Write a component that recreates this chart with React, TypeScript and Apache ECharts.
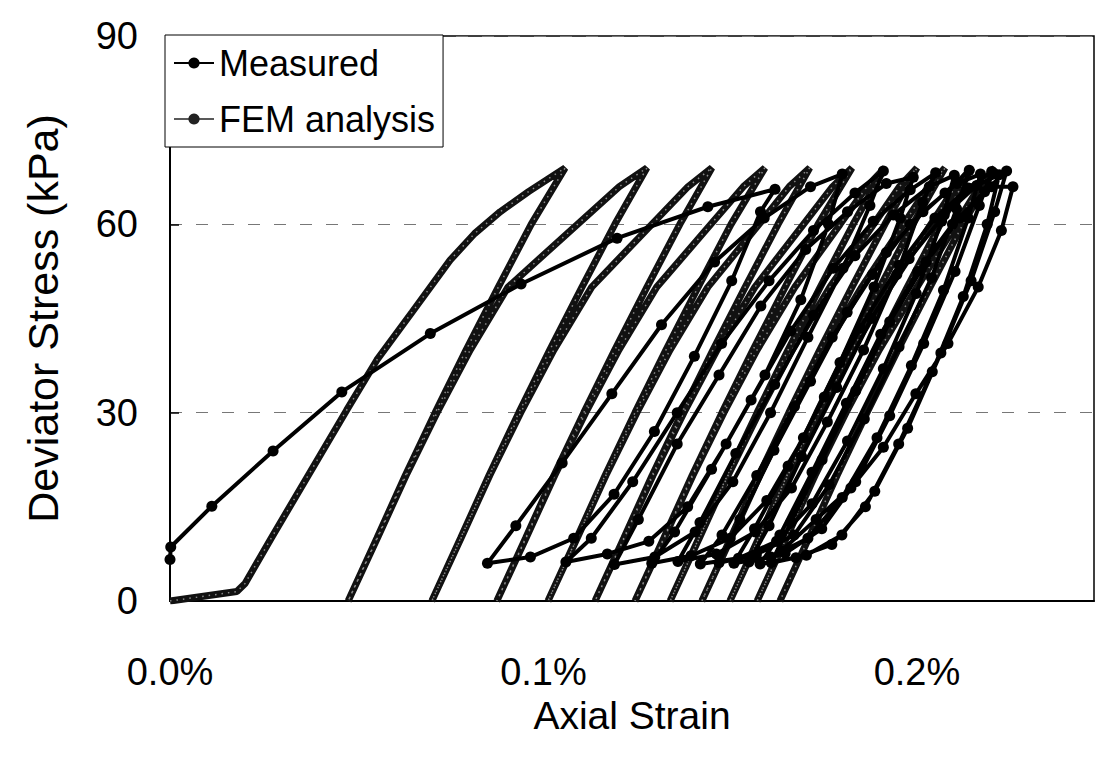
import React, { useEffect, useRef } from "react";
import * as echarts from "echarts";

// ---- Axis ticks ----
const xTicks = [0, 0.1, 0.2]; // axial strain, %
const yTicks = [0, 30, 60, 90]; // deviator stress, kPa

// ---- Measured: first loading ----
const measFirstStrain = [0, 0.0002, 0.0112, 0.0276, 0.046, 0.0697, 0.094, 0.1197, 0.144, 0.162];
const measFirstStress = [6.6, 8.6, 15.1, 23.9, 33.3, 42.6, 50.5, 57.8, 62.8, 65.6];
// ---- Measured: unloading branches (strain %, stress kPa) ----
const measUnloadStrain = [
  [0.1581, 0.1504, 0.1404, 0.1297, 0.1189, 0.1081, 0.0965, 0.085],
  [0.1763, 0.1689, 0.1593, 0.1489, 0.1386, 0.1282, 0.1171, 0.106],
  [0.1874, 0.1802, 0.1708, 0.1608, 0.1507, 0.1406, 0.1298, 0.119],
  [0.1955, 0.1885, 0.1794, 0.1696, 0.1598, 0.15, 0.1395, 0.129],
  [0.2015, 0.1946, 0.1857, 0.176, 0.1664, 0.1567, 0.1463, 0.136],
  [0.2066, 0.1998, 0.191, 0.1814, 0.1719, 0.1624, 0.1522, 0.142],
  [0.2106, 0.2039, 0.1952, 0.1859, 0.1765, 0.1671, 0.157, 0.147],
  [0.2137, 0.2071, 0.1985, 0.1893, 0.18, 0.1708, 0.1609, 0.151],
  [0.2167, 0.2102, 0.2018, 0.1927, 0.1836, 0.1745, 0.1647, 0.155],
  [0.2188, 0.2124, 0.2041, 0.1951, 0.1862, 0.1772, 0.1676, 0.158],
  [0.2208, 0.2145, 0.2064, 0.1975, 0.1887, 0.1799, 0.1704, 0.161],
  [0.2226, 0.2164, 0.2083, 0.1997, 0.191, 0.1823, 0.173, 0.1637],
];
const measUnloadStress = [
  [62, 51, 39, 27, 17, 10, 7, 6],
  [60, 48, 36, 25, 15, 9.5, 7.5, 6.2],
  [63, 53, 42, 30, 19, 11, 7, 5.8],
  [61, 50, 38, 26, 16, 10, 7.2, 6],
  [63.5, 52, 40, 28.5, 18, 11, 7.5, 6.3],
  [60.5, 49, 37, 25.5, 15.5, 9.5, 6.8, 5.9],
  [62.5, 51.5, 40.5, 29, 18.5, 10.5, 7.4, 6.1],
  [61, 49.5, 37.5, 26, 16.5, 10, 7, 6],
  [63, 52.5, 41, 29.5, 19, 11.5, 7.6, 6.2],
  [60, 48.5, 36.5, 25, 15, 9, 6.9, 5.9],
  [62, 51, 39.5, 27.5, 17.5, 10.5, 7.3, 6.1],
  [59, 50, 41, 33, 24.5, 18, 13, 8],
];
// ---- Measured: reloading branches ----
const measReloadStrain = [
  [0.0926, 0.105, 0.1183, 0.1316, 0.1458, 0.1591, 0.1715, 0.18],
  [0.1128, 0.1239, 0.1358, 0.1477, 0.1604, 0.1723, 0.1834, 0.191],
  [0.1254, 0.1358, 0.147, 0.1582, 0.1702, 0.1814, 0.1918, 0.199],
  [0.1351, 0.145, 0.1556, 0.1662, 0.1776, 0.1883, 0.1982, 0.205],
  [0.1419, 0.1515, 0.1619, 0.1723, 0.1834, 0.1937, 0.2033, 0.21],
  [0.1478, 0.1571, 0.1672, 0.1773, 0.1881, 0.1982, 0.2075, 0.214],
  [0.1526, 0.1617, 0.1715, 0.1813, 0.1918, 0.2016, 0.2107, 0.217],
  [0.1565, 0.1655, 0.1752, 0.1848, 0.1952, 0.2048, 0.2138, 0.22],
  [0.1604, 0.1691, 0.1785, 0.1878, 0.1979, 0.2073, 0.216, 0.222],
  [0.1633, 0.1719, 0.1811, 0.1903, 0.2002, 0.2095, 0.2181, 0.224],
  [0.1662, 0.1746, 0.1836, 0.1927, 0.2024, 0.2115, 0.2199, 0.2257],
];
const measReloadStress = [
  [12, 22, 33, 44, 54, 61, 66, 68],
  [10, 19, 30, 41, 51, 59, 65, 68.5],
  [13, 25, 36, 47, 56, 62, 66.5, 67.5],
  [11, 21, 32, 43, 53, 60.5, 65.5, 68.2],
  [12.5, 23.5, 34.5, 45.5, 55, 61.5, 66, 67.8],
  [10.5, 20, 31, 42, 52, 60, 65, 68.6],
  [13, 24, 35, 46, 55.5, 62, 66.5, 68],
  [11.5, 21.5, 32.5, 43.5, 53.5, 61, 65.8, 68.4],
  [12, 23, 34, 45, 54.5, 61.5, 66.2, 67.9],
  [10.5, 20.5, 31.5, 42.5, 52.5, 60, 65.2, 68.5],
  [12.5, 22.5, 33.5, 44.5, 54, 61, 66, 66],
];

// ---- FEM analysis ----
const femFirstStrain = [0, 0.0179, 0.0201, 0.0271, 0.037, 0.0473, 0.0554, 0.0648, 0.075, 0.0815, 0.0884, 0.096, 0.1058];
const femFirstStress = [0, 1.5, 2.8, 10, 20, 30.4, 38.4, 46, 54.3, 58.5, 62, 65.2, 69];
const femUnloadStress = [60, 50, 40, 30, 20, 10, 0];
const femReloadStress = [10, 20, 30, 40, 50, 60, 66, 69];
const femUnloadStrain = [
  [0.0967, 0.0879, 0.0793, 0.071, 0.063, 0.0554, 0.0477],
  [0.1191, 0.1103, 0.1017, 0.0934, 0.0854, 0.0778, 0.0701],
  [0.1365, 0.1277, 0.1191, 0.1108, 0.1028, 0.0952, 0.0875],
  [0.1502, 0.1414, 0.1328, 0.1245, 0.1165, 0.1089, 0.1012],
  [0.1628, 0.154, 0.1454, 0.1371, 0.1291, 0.1215, 0.1138],
  [0.1735, 0.1647, 0.1561, 0.1478, 0.1398, 0.1322, 0.1245],
  [0.1829, 0.1741, 0.1655, 0.1572, 0.1492, 0.1416, 0.1339],
  [0.1914, 0.1826, 0.174, 0.1657, 0.1577, 0.1501, 0.1424],
  [0.1989, 0.1901, 0.1815, 0.1732, 0.1652, 0.1576, 0.1499],
  [0.2062, 0.1974, 0.1888, 0.1805, 0.1725, 0.1649, 0.1572],
  [0.2123, 0.2035, 0.1949, 0.1866, 0.1786, 0.171, 0.1633],
];
const femReloadStrain = [
  [0.0555, 0.0632, 0.0715, 0.0804, 0.0905, 0.1091, 0.1203, 0.1277],
  [0.0779, 0.0856, 0.0939, 0.1028, 0.1129, 0.129, 0.1387, 0.1451],
  [0.0953, 0.103, 0.1113, 0.1202, 0.1303, 0.1448, 0.1535, 0.1593],
  [0.109, 0.1167, 0.125, 0.1339, 0.144, 0.1577, 0.1658, 0.1713],
  [0.1216, 0.1293, 0.1376, 0.1465, 0.1566, 0.1696, 0.1774, 0.1826],
  [0.1323, 0.14, 0.1483, 0.1572, 0.1673, 0.1794, 0.1866, 0.1914],
  [0.1417, 0.1494, 0.1577, 0.1666, 0.1767, 0.1884, 0.1953, 0.2],
  [0.1502, 0.1579, 0.1662, 0.1751, 0.1852, 0.1964, 0.203, 0.2075],
  [0.1577, 0.1654, 0.1737, 0.1826, 0.1927, 0.2037, 0.2103, 0.2147],
  [0.165, 0.1727, 0.181, 0.1899, 0.2, 0.2105, 0.2167, 0.2209],
];

function buildPath(
  firstX: number[], firstY: number[],
  unloadX: number[][], unloadY: (c: number) => number[],
  reloadX: number[][], reloadY: (c: number) => number[]
): number[][] {
  const out: number[][] = [];
  firstX.forEach((x, i) => out.push([x, firstY[i]]));
  for (let c = 0; c < unloadX.length; c++) {
    const uy = unloadY(c);
    unloadX[c].forEach((x, i) => out.push([x, uy[i]]));
    if (c < reloadX.length) {
      const ry = reloadY(c);
      reloadX[c].forEach((x, i) => out.push([x, ry[i]]));
    }
  }
  return out;
}

const FONT = "'Liberation Sans', Arial, Helvetica, sans-serif";

export default function App() {
  const ref = useRef<HTMLDivElement>(null);
  useEffect(() => {
    if (!ref.current) return;
    const chart = echarts.init(ref.current, undefined, { renderer: "svg" });
    const measured = buildPath(
      measFirstStrain, measFirstStress,
      measUnloadStrain, (c) => measUnloadStress[c],
      measReloadStrain, (c) => measReloadStress[c]
    );
    const fem = buildPath(
      femFirstStrain, femFirstStress,
      femUnloadStrain, () => femUnloadStress,
      femReloadStrain, () => femReloadStress
    );
    chart.setOption({
      animation: false,
      backgroundColor: "#fff",
      textStyle: { fontFamily: FONT, color: "#000" },
      grid: {
        left: 170, top: 36, right: 1, bottom: 156,
        show: true, borderColor: "#000", borderWidth: 1.5, backgroundColor: "transparent",
      },
      legend: {
        orient: "vertical",
        left: 165, top: 35,
        padding: [10, 8, 10, 8],
        itemGap: 20,
        itemWidth: 40, itemHeight: 14,
        backgroundColor: "#fff",
        borderColor: "#000", borderWidth: 1,
        textStyle: { fontSize: 36, color: "#000", fontFamily: FONT },
        data: [
          { name: "Measured" },
          { name: "FEM analysis", lineStyle: { width: 1.5, color: "#222" }, itemStyle: { color: "#222" } },
        ],
      },
      xAxis: {
        type: "value",
        min: xTicks[0], max: 0.2474, interval: 0.1,
        name: "Axial Strain", nameLocation: "middle", nameGap: 94,
        nameTextStyle: { fontSize: 39, color: "#000", fontFamily: FONT },
        axisLine: { lineStyle: { color: "#000", width: 2 } },
        axisTick: { show: false },
        splitLine: { show: false },
        axisLabel: {
          fontSize: 38, color: "#000", margin: 52, showMaxLabel: false,
          formatter: (v: number) => (xTicks.some((t) => Math.abs(t - v) < 1e-9) ? v.toFixed(1) + "%" : ""),
        },
      },
      yAxis: {
        type: "value",
        min: yTicks[0], max: yTicks[yTicks.length - 1], interval: 30,
        name: "Deviator Stress (kPa)", nameLocation: "middle", nameGap: 106,
        nameTextStyle: { fontSize: 43, color: "#000", fontFamily: FONT },
        axisLine: { lineStyle: { color: "#000", width: 2 } },
        axisTick: { show: true, inside: true, length: 9, lineStyle: { color: "#000", width: 1.5 } },
        splitLine: { show: true, lineStyle: { color: "#777", width: 1, type: [12, 14] } },
        axisLabel: { fontSize: 38, color: "#000", margin: 32 },
      },
      series: [
        {
          name: "FEM analysis",
          type: "line",
          data: fem,
          symbol: "circle", symbolSize: 6, showSymbol: false,
          lineStyle: { color: "#111", width: 7 },
          itemStyle: { color: "#222" },
          z: 2,
        },
        {
          name: "FEM analysis",
          type: "line",
          data: fem,
          symbol: "none",
          lineStyle: { color: "#8a8a8a", width: 1.5, type: [1.5, 5] },
          z: 3,
          silent: true,
        },
        {
          name: "Measured",
          type: "line",
          data: measured,
          symbol: "circle", symbolSize: 11,
          lineStyle: { color: "#000", width: 4 },
          itemStyle: { color: "#000" },
          z: 4,
        },
      ],
    });
    return () => chart.dispose();
  }, []);
  return (
    <div
      ref={ref}
      style={{ position: "absolute", left: 0, top: 0, width: 1095, height: 757, background: "#fff" }}
    />
  );
}
